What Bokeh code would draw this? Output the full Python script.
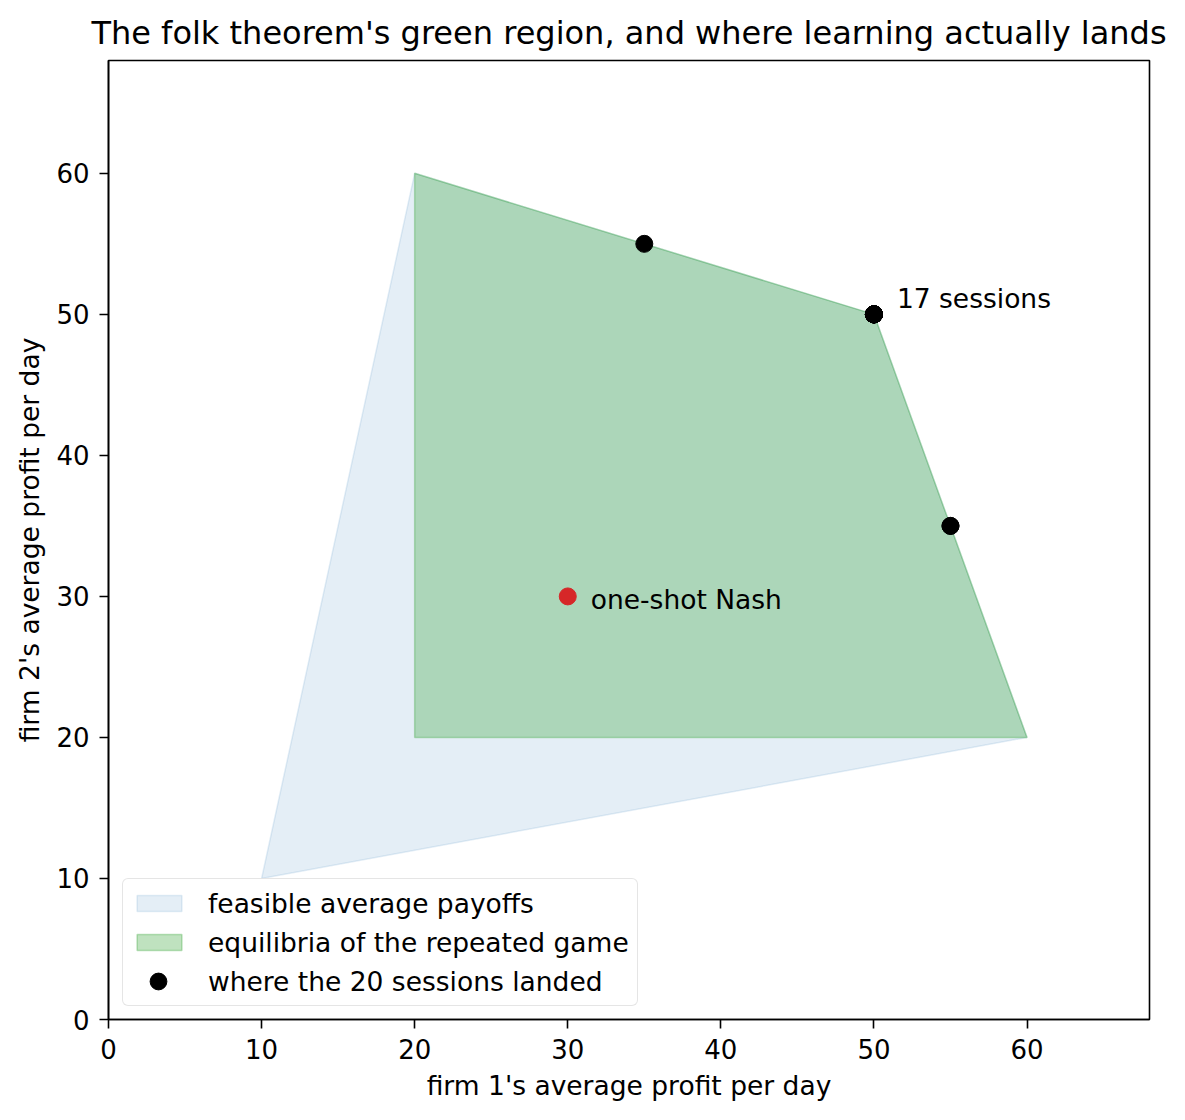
from bokeh.plotting import figure
from bokeh.models import Range1d, Legend, LegendItem, FixedTicker, Label
from bokeh.embed import file_html
from bokeh.resources import INLINE

# data
feasible_x = [10, 20, 50, 60]
feasible_y = [10, 60, 50, 20]
equil_x = [20, 20, 50, 60]
equil_y = [20, 60, 50, 20]
session_x = [50] * 17 + [35, 55, 55]
session_y = [50] * 17 + [55, 35, 35]
nash_x = [30]
nash_y = [30]
ticks = [0, 10, 20, 30, 40, 50, 60]

FONT = "DejaVu Sans"
FS = "26.5px"

p = figure(width=1177, height=1112, output_backend="svg", toolbar_location=None,
           x_range=Range1d(0, 68), y_range=Range1d(0, 68),
           min_border_left=108, min_border_right=28, min_border_top=60, min_border_bottom=93,
           title="The folk theorem's green region, and where learning actually lands")

p.title.text_font = FONT
p.title.text_font_size = "32px"
p.title.text_font_style = "normal"
p.title.align = "center"
p.title.text_color = "black"
p.title.standoff = 18

p.grid.visible = False
p.outline_line_color = "black"
p.outline_line_width = 1.6

for ax in (p.xaxis[0], p.yaxis[0]):
    ax.ticker = FixedTicker(ticks=ticks)
    ax.minor_tick_line_color = None
    ax.major_tick_in = 0
    ax.major_tick_out = 9
    ax.major_tick_line_width = 1.6
    ax.axis_line_width = 1.6
    ax.axis_line_color = "black"
    ax.major_tick_line_color = "black"
    ax.major_label_text_font = FONT
    ax.major_label_text_font_size = "26px"
    ax.major_label_text_color = "black"
    ax.axis_label_text_font = FONT
    ax.axis_label_text_font_size = FS
    ax.axis_label_text_font_style = "normal"
    ax.axis_label_text_color = "black"
    ax.major_label_standoff = 10

p.xaxis.axis_label = "firm 1's average profit per day"
p.yaxis.axis_label = "firm 2's average profit per day"
p.xaxis.axis_label_standoff = 8
p.yaxis.axis_label_standoff = 8

r_feas = p.patch(feasible_x, feasible_y, fill_color="#1f77b4", fill_alpha=0.12,
                 line_color="#1f77b4", line_alpha=0.12, line_width=1.5)
r_eq = p.patch(equil_x, equil_y, fill_color="#2ca02c", fill_alpha=0.3,
               line_color="#2ca02c", line_alpha=0.3, line_width=1.5)
r_sess = p.scatter(session_x, session_y, size=17, color="black", marker="circle")
p.scatter(nash_x, nash_y, size=17, color="#d62728", marker="circle")
# invisible placeholder so the legend row keeps its label
r_blank = p.scatter([], [], size=1, fill_alpha=0, line_alpha=0)

p.add_layout(Label(x=51.5, y=51.15, text="17 sessions", text_font=FONT,
                   text_font_size=FS, text_color="black", text_baseline="alphabetic"))
p.add_layout(Label(x=31.5, y=29.8, text="one-shot Nash", text_font=FONT,
                   text_font_size=FS, text_color="black", text_baseline="alphabetic"))

legend = Legend(items=[
    LegendItem(label="feasible average payoffs", renderers=[r_feas]),
    LegendItem(label="equilibria of the repeated game", renderers=[r_eq]),
    LegendItem(label="where the 20 sessions landed", renderers=[r_blank]),
], location=(14, 13))
legend.label_text_font = FONT
legend.label_text_font_size = FS
legend.label_text_color = "black"
legend.glyph_width = 56
legend.glyph_height = 20
legend.label_height = 32
legend.label_standoff = 21
legend.spacing = 7
legend.padding = 8
legend.margin = 0
legend.border_line_color = "#cccccc"
legend.border_line_width = 1.5
legend.background_fill_alpha = 0.8
if "border_radius" in Legend.properties():
    legend.border_radius = 6
p.add_layout(legend, "center")

# overlay legend carrying the full-size dot marker
dot_legend = Legend(items=[LegendItem(label=" ", renderers=[r_sess])], location=(22, 17))
dot_legend.glyph_width = 56
dot_legend.glyph_height = 42
dot_legend.label_height = 42
dot_legend.label_standoff = 0
dot_legend.padding = 0
dot_legend.margin = 0
dot_legend.spacing = 0
dot_legend.label_text_font_size = "2px"
dot_legend.border_line_color = None
dot_legend.background_fill_color = None
dot_legend.background_fill_alpha = 0
p.add_layout(dot_legend, "center")

open("out.html", "w").write(file_html(p, INLINE))
